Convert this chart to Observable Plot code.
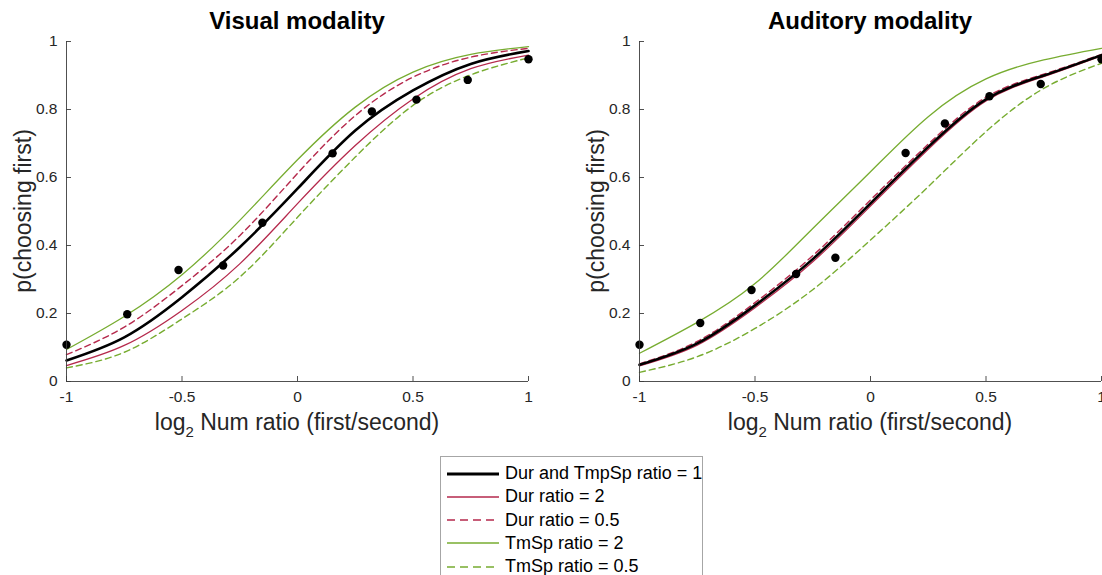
<!DOCTYPE html>
<html><head><meta charset="utf-8">
<script src="https://cdn.jsdelivr.net/npm/d3@7"></script>
<script src="https://cdn.jsdelivr.net/npm/@observablehq/plot@0.6"></script>
<style>
html,body{margin:0;padding:0;background:#fff;overflow:hidden;}
#root{position:relative;width:1102px;height:575px;overflow:hidden;font-family:"Liberation Sans",Arial,sans-serif;}
.panel{position:absolute;top:0;}
#legend{position:absolute;left:440px;top:456px;width:263px;height:140px;border:1px solid #a6a6a6;background:#fff;box-sizing:border-box;}
.row{position:absolute;left:5px;height:23px;display:flex;align-items:center;font-size:18px;color:#000;white-space:nowrap;}
.row svg{margin-right:5px;}
</style></head><body><div id="root"></div>
<script>
// ---------- data ----------
const panelTitles = ["Visual modality", "Auditory modality"];
const seriesNames = ["Dur and TmpSp ratio = 1", "Dur ratio = 2", "Dur ratio = 0.5", "TmSp ratio = 2", "TmSp ratio = 0.5"];
const xTicks = [-1, -0.5, 0, 0.5, 1];
const xTickLabels = ["-1", "-0.5", "0", "0.5", "1"];
const yTicks = [0, 0.2, 0.4, 0.6, 0.8, 1];
const yTickLabels = ["0", "0.2", "0.4", "0.6", "0.8", "1"];

// fitted curves read at these x positions
const xCurve = [-1, -0.75, -0.5, -0.25, 0, 0.25, 0.5, 0.75, 1];
const visBase   = [0.062, 0.130, 0.248, 0.395, 0.567, 0.738, 0.856, 0.934, 0.972];
const visDur2   = [0.047, 0.106, 0.209, 0.346, 0.523, 0.694, 0.831, 0.920, 0.960];
const visDur05  = [0.079, 0.160, 0.282, 0.429, 0.612, 0.782, 0.895, 0.954, 0.980];
const visTmSp2  = [0.094, 0.191, 0.314, 0.474, 0.652, 0.807, 0.910, 0.962, 0.985];
const visTmSp05 = [0.040, 0.086, 0.184, 0.307, 0.483, 0.660, 0.812, 0.902, 0.952];
const audBase   = [0.049, 0.112, 0.224, 0.360, 0.524, 0.690, 0.830, 0.900, 0.960];
const audDur2   = [0.046, 0.107, 0.217, 0.352, 0.516, 0.683, 0.825, 0.897, 0.958];
const audDur05  = [0.052, 0.118, 0.232, 0.370, 0.534, 0.698, 0.836, 0.904, 0.962];
const audTmSp2  = [0.083, 0.174, 0.288, 0.450, 0.617, 0.779, 0.890, 0.946, 0.980];
const audTmSp05 = [0.027, 0.073, 0.156, 0.270, 0.416, 0.573, 0.735, 0.862, 0.936];

// observed proportions
const xPoints = [-1, -0.737, -0.515, -0.322, -0.152, 0.152, 0.322, 0.515, 0.737, 1];
const visPoints = [0.108, 0.198, 0.328, 0.341, 0.467, 0.671, 0.794, 0.829, 0.887, 0.948];
const audPoints = [0.108, 0.172, 0.269, 0.316, 0.364, 0.672, 0.759, 0.839, 0.875, 0.948];

// ---------- styles ----------
const red = "#b5294c", green = "#77ac30", axisColor = "#3c3c3c", textColor = "#262626";
const styles = [
  {stroke: "#000", strokeWidth: 2.6, dash: null, legendWidth: 3.2},
  {stroke: red, strokeWidth: 1.3, dash: null, legendWidth: 1.3},
  {stroke: red, strokeWidth: 1.4, dash: "6,4", legendWidth: 1.4},
  {stroke: green, strokeWidth: 1.3, dash: null, legendWidth: 1.3},
  {stroke: green, strokeWidth: 1.4, dash: "6,4", legendWidth: 1.4}
];
const drawOrder = [4, 3, 2, 1, 0];

const W = 560, H = 450, ML = 66, MR = 32, MT = 41, MB = 69;
const FONT = "Liberation Sans, Arial, sans-serif";

function panel(title, curves, pts, left) {
  const marks = [];
  for (const i of drawOrder) {
    const rows = xCurve.map((x, j) => ({x, p: curves[i][j], s: seriesNames[i]}));
    marks.push(Plot.line(rows, {
      x: "x", y: "p", curve: "natural",
      stroke: styles[i].stroke, strokeWidth: styles[i].strokeWidth,
      strokeDasharray: styles[i].dash || undefined
    }));
  }
  const prow = xPoints.map((x, j) => ({x, p: pts[j]}));
  marks.push(Plot.dot(prow, {x: "x", y: "p", r: 4.2, fill: "#000", stroke: null}));
  // axes
  marks.push(Plot.ruleX([xTicks[0]], {stroke: axisColor, strokeWidth: 0.9}));
  marks.push(Plot.ruleY([yTicks[0]], {stroke: axisColor, strokeWidth: 0.9}));
  marks.push(Plot.tickX(xTicks, {x: d => d, insetTop: (H - MT - MB) - 5, stroke: axisColor, strokeWidth: 0.9}));
  marks.push(Plot.tickY(yTicks, {y: d => d, insetRight: (W - ML - MR) - 5, stroke: axisColor, strokeWidth: 0.9}));
  marks.push(Plot.axisX(xTicks, {tickSize: 0, tickPadding: 9, label: null, fontSize: 15.5, fill: textColor,
    tickFormat: d => xTickLabels[xTicks.indexOf(d)]}));
  marks.push(Plot.axisY(yTicks, {tickSize: 0, tickPadding: 9, label: null, fontSize: 15.5, fill: textColor,
    tickFormat: d => yTickLabels[yTicks.indexOf(d)]}));

  const svg = Plot.plot({
    width: W, height: H, marginLeft: ML, marginRight: MR, marginTop: MT, marginBottom: MB,
    x: {domain: [xTicks[0], xTicks[xTicks.length - 1]]},
    y: {domain: [yTicks[0], yTicks[yTicks.length - 1]]},
    style: {fontFamily: FONT, background: "transparent", overflow: "visible"},
    marks
  });
  const s = d3.select(svg);
  const cx = ML + (W - ML - MR) / 2;
  s.append("text").attr("x", cx).attr("y", 29).attr("text-anchor", "middle")
    .attr("font-family", FONT).attr("font-weight", "bold").attr("font-size", 24).attr("fill", "#000").text(title);
  const t = s.append("text").attr("x", cx).attr("y", 430).attr("text-anchor", "middle")
    .attr("font-family", FONT).attr("font-size", 23).attr("fill", textColor);
  t.append("tspan").text("log");
  t.append("tspan").attr("font-size", 15).attr("dy", 7).text("2");
  t.append("tspan").attr("dy", -7).text(" Num ratio (first/second)");
  s.append("text").attr("transform", `translate(23,${MT + (H - MT - MB) / 2}) rotate(-90)`)
    .attr("text-anchor", "middle").attr("dominant-baseline", "central")
    .attr("font-family", FONT).attr("font-size", 23).attr("fill", textColor).text("p(choosing first)");
  svg.classList.add("panel");
  svg.style.left = left + "px";
  return svg;
}

const root = document.getElementById("root");
root.appendChild(panel(panelTitles[0], [visBase, visDur2, visDur05, visTmSp2, visTmSp05], visPoints, 0));
root.appendChild(panel(panelTitles[1], [audBase, audDur2, audDur05, audTmSp2, audTmSp05], audPoints, 573));

// legend
const lg = document.createElement("div");
lg.id = "legend";
seriesNames.forEach((name, i) => {
  const row = document.createElement("div");
  row.className = "row";
  row.style.top = (5 + i * 23.3) + "px";
  const st = styles[i];
  row.innerHTML = `<svg width="54" height="10"><line x1="1" x2="53" y1="5" y2="5" stroke="${st.stroke}" stroke-width="${st.legendWidth}" ${st.dash ? 'stroke-dasharray="8,5"' : ''}/></svg><span>${name}</span>`;
  lg.appendChild(row);
});
root.appendChild(lg);
</script></body></html>
